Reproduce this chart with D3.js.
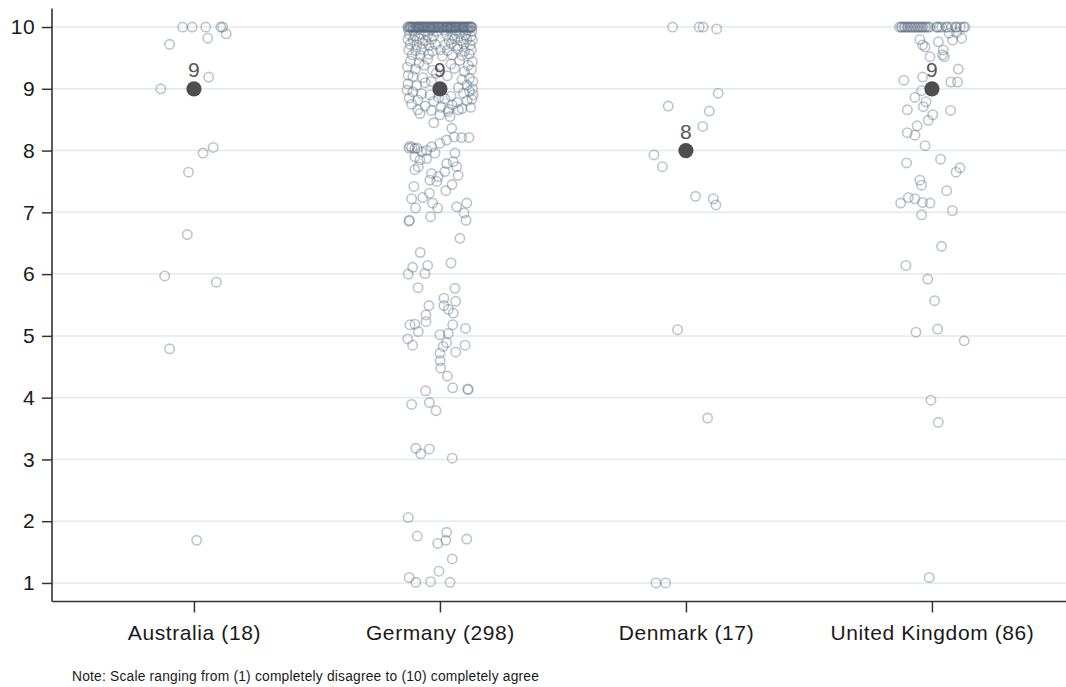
<!DOCTYPE html>
<html><head><meta charset="utf-8">
<script src="https://cdn.jsdelivr.net/npm/d3@7"></script>
<style>
body{margin:0;background:#fff;}
svg{display:block;font-family:"Liberation Sans",Arial,sans-serif;}
</style>
</head><body>
<svg id="chart" width="1066" height="687"></svg>
<script>
const categories = ["Australia (18)", "Germany (298)", "Denmark (17)", "United Kingdom (86)"];
const medians = [9, 9, 8, 9];
const yTickValues = [1, 2, 3, 4, 5, 6, 7, 8, 9, 10];
const noteText = "Note: Scale ranging from (1) completely disagree to (10) completely agree";

// each point: [rating, horizontal jitter in % of the category spacing]
const australia = [
  [10,-4.6],[10,-0.7],[10,4.8],[10,10.9],[10,11.7],[9.82,5.6],[9.89,13.1],[9.72,-9.9],[9.19,6.0],
  [9.0,-13.5],[8.05,7.8],[7.96,3.7],[7.65,-2.2],[6.64,-2.7],[5.97,-11.9],[5.87,9.1],[4.79,-9.9],[1.69,1.1]
];

const germanyTop = [
  -13.1,-12.7,-12.2,-11.9,-11.3,-11.0,-10.6,-10.1,-9.8,-9.4,
  -9.0,-8.5,-8.2,-7.7,-7.4,-7.0,-6.5,-6.2,-5.8,-5.3,
  -5.0,-4.6,-4.1,-3.8,-3.3,-3.0,-2.6,-2.1,-1.8,-1.4,
  -0.9,-0.6,-0.2,0.3,0.6,1.1,1.4,1.8,2.3,2.6,
  3.1,3.4,3.9,4.2,4.7,5.0,5.5,5.8,6.2,6.7,
  7.0,7.5,7.8,8.3,8.6,9.1,9.4,9.9,10.2,10.7,
  11.0,11.5,11.8,12.3,12.7,13.0,-12.0,-8.8,-4.4,-0.4,
  2.9,6.4,9.6,12.5,-6.8,4.4,-2.4
];
const germanyHigh = [
  [9.96,-12.8],[9.95,-10.9],[9.97,-8.6],[9.94,-6.1],[9.96,-3.7],[9.93,-1.2],[9.95,1.6],[9.97,4.1],[9.94,6.6],[9.96,9.0],[9.95,11.3],[9.93,13.0],
  [9.88,-12.4],[9.86,-10.2],[9.89,-7.8],[9.87,-5.0],[9.85,-2.6],[9.88,2.7],[9.86,5.1],[9.89,7.9],[9.87,10.4],[9.85,12.6],
  [9.80,-13.0],[9.79,-10.8],[9.81,-8.3],[9.78,-5.9],[9.80,-3.4],[9.79,3.6],[9.81,6.0],[9.78,8.5],[9.80,10.9],[9.79,13.2],
  [9.72,-12.1],[9.71,-9.4],[9.73,-7.0],[9.70,-4.4],[9.72,-1.9],[9.71,2.1],[9.73,4.6],[9.70,7.1],[9.72,9.6],[9.71,12.3],
  [9.63,-12.7],[9.62,-9.9],[9.64,-7.4],[9.61,-3.0],[9.63,0.2],[9.62,3.0],[9.64,7.3],[9.61,10.0],[9.63,12.8],
  [9.55,-11.3],[9.54,-8.0],[9.56,-4.6],[9.53,1.0],[9.55,5.0],[9.54,9.0],[9.56,11.9]
];
const germanyMid = [
  [9.45,-12.0],[9.42,-8.5],[9.48,-5.0],[9.40,4.5],[9.46,8.0],[9.38,11.5],[9.44,13.2],
  [9.35,-13.2],[9.32,-10.0],[9.30,-3.0],[9.33,6.0],[9.28,10.0],[9.31,12.8],
  [9.22,-12.9],[9.20,-11.0],[9.18,-7.0],[9.25,-1.5],[9.21,3.0],[9.15,9.0],[9.17,12.0],[9.12,13.4],
  [9.08,-13.0],[9.05,-9.5],[9.10,-6.0],[9.02,7.5],[9.06,11.0],[9.00,13.3],[8.98,-13.4],
  [8.95,-11.0],[8.92,-7.5],[8.90,-4.0],[8.88,4.5],[8.93,9.5],[8.96,12.0],[8.90,13.5],
  [8.85,-12.5],[8.82,-9.0],[8.80,-2.5],[8.84,2.0],[8.78,7.0],[8.81,11.0],[8.83,13.0],
  [8.75,-11.5],[8.72,-6.0],[8.70,0.5],[8.74,5.0],[8.68,9.0],[8.70,12.5],
  [8.66,-9.0],[8.65,-3.5],[8.67,3.5],[8.66,7.5],
  [9.38,-6.5],[9.12,-3.5],[8.86,-0.5]
];
const germanyLow = [
  [8.63,3.3],[8.60,-8.1],[8.58,0.0],[8.55,4.1],[8.36,4.8],[8.22,5.8],[8.21,8.8],[8.21,11.8],[8.17,2.7],[8.12,0.0],
  [8.04,-12.6],[8.05,-11.4],[8.03,-10.2],[8.04,-9.3],[8.07,-12.2],[7.98,-7.4],[8.00,-5.4],[8.06,-3.4],[7.96,-2.0],[7.90,-10.2],
  [7.85,-8.1],[7.87,-5.4],[7.96,6.1],[7.82,5.4],[7.79,2.7],[7.69,-10.2],[7.74,-8.8],[7.63,-3.4],[7.58,-0.7],[7.66,2.0],
  [7.74,6.8],[7.60,7.4],[7.52,-4.1],[7.50,-1.3],[7.35,2.4],[7.42,-10.6],[7.45,4.9],[8.45,-2.5],
  [7.22,-11.5],[7.24,-7.0],[7.31,-4.3],[7.15,-3.0],[7.07,-0.9],[7.07,-9.9],[7.09,6.8],[7.15,10.9],[6.99,9.8],[6.87,10.6],
  [6.86,-12.6],[6.87,-12.4],[6.93,-3.8],[6.58,8.1],[6.35,-8.0],[6.18,4.5],[6.11,-11.1],[6.14,-5.0],[6.00,-12.9],[6.01,-6.1],
  [5.78,-8.9],[5.77,6.1],[5.61,1.6],[5.56,6.4],[5.49,-4.5],[5.49,1.6],[5.43,3.4],[5.37,5.4],[5.34,-5.7],[5.23,-5.7],
  [5.18,-12.2],[5.19,-10.2],[5.07,-8.8],[5.18,5.2],[5.12,10.4],[5.02,0.0],[5.04,3.4],[4.95,-13.1],[4.85,-11.1],[4.89,2.7],
  [4.83,1.3],[4.85,10.2],[4.74,6.4],[4.72,0.0],[4.60,0.1],[4.48,0.3],[4.35,3.0],[4.16,5.2],[4.14,11.3],[4.13,11.5],
  [4.11,-5.8],[3.89,-11.5],[3.92,-4.3],[3.79,-1.6],[3.18,-9.8],[3.09,-7.8],[3.17,-4.3],[3.02,5.0],[2.06,-12.9],[1.76,-9.2],
  [1.82,2.7],[1.64,-0.9],[1.69,2.4],[1.71,10.9],[1.39,5.0],[1.19,-0.4],[1.09,-12.5],[1.01,-9.8],[1.02,-3.8],[1.01,4.1]
];

const denmark = [
  [10,-5.4],[10,5.4],[10,7.0],[9.97,12.5],[8.93,13.1],[8.72,-7.2],[8.64,9.5],[8.39,6.8],[7.93,-13.0],
  [7.74,-9.6],[7.26,3.9],[7.22,11.1],[7.12,12.2],[5.10,-3.4],[3.67,8.8],[1.0,-12.2],[1.0,-8.3]
];

const ukTop = [
  -13.2,-12.5,-12.1,-11.3,-10.9,-10.1,-9.7,-8.9,-8.4,-7.9,-7.1,-6.7,-5.9,-5.5,-4.8,-4.1,-3.7,-2.9,-2.3,-1.6,
  1.9,2.2,5.8,6.3,9.6,10.1,12.9,13.4,8.0,11.5,4.0,3.1,-0.9
];
const ukRest = [
  [9.90,7.0],[9.91,10.0],[9.82,12.1],[9.79,8.4],[9.80,-4.9],[9.68,-2.8],[9.71,-3.8],[9.76,2.6],[9.63,4.6],[9.55,4.3],
  [9.52,5.0],[9.52,-0.8],[9.32,10.7],[9.14,-11.4],[9.19,-3.8],[9.11,7.7],[9.11,10.4],[8.97,-4.2],[8.86,-6.9],[8.79,-2.4],
  [8.71,-3.5],[8.66,-10.0],[8.65,7.6],[8.58,0.3],[8.49,-1.5],[8.40,-6.0],[8.29,-10.0],[8.25,-6.9],[8.08,-2.8],[7.80,-10.3],
  [7.86,3.5],[7.72,11.4],[7.65,9.8],[7.52,-4.9],[7.44,-4.2],[7.35,6.0],[7.24,-9.6],[7.22,-6.9],[7.15,-12.7],[7.16,-3.8],
  [7.15,-0.8],[7.03,8.3],[6.96,-4.2],[6.45,3.9],[6.14,-10.6],[5.92,-1.7],[5.57,1.1],[5.06,-6.5],[5.11,2.3],[4.92,13.1],
  [3.96,-0.4],[3.60,2.6],[1.09,-1.1]
];

const germany = germanyTop.map(j => [10, j]).concat(germanyHigh, germanyMid, germanyLow);
const unitedKingdom = ukTop.map(j => [10, j]).concat(ukRest);
const series = [australia, germany, denmark, unitedKingdom];

const W = 1066, H = 687;
const plotLeft = 52, plotBottom = 601.5, plotTop = 8.5;
const x = d3.scaleLinear().domain([0.423, 4.545]).range([plotLeft, W]);
const y = d3.scaleLinear().domain([0.7, 10.3]).range([plotBottom, plotTop]);
const svg = d3.select("#chart");
const fontFam = '"Liberation Sans",Arial,sans-serif';

// grid lines
svg.append("g").selectAll("line").data(yTickValues).join("line")
  .attr("x1", plotLeft).attr("x2", W)
  .attr("y1", d => y(d)).attr("y2", d => y(d))
  .attr("stroke", "#e2eaed").attr("stroke-width", 1.5);

// jittered points
series.forEach((pts, i) => {
  svg.append("g").selectAll("circle").data(pts).join("circle")
    .attr("cx", d => x(i + 1 + d[1] / 100))
    .attr("cy", d => y(d[0]))
    .attr("r", 4.7)
    .attr("fill", "none")
    .attr("stroke", "#5b6b80")
    .attr("stroke-opacity", 0.4)
    .attr("stroke-width", 1.6);
});

// medians
svg.append("g").selectAll("circle").data(medians).join("circle")
  .attr("cx", (d, i) => x(i + 1)).attr("cy", d => y(d))
  .attr("r", 7.6).attr("fill", "#4e4e4e");
svg.append("g").selectAll("text").data(medians).join("text")
  .attr("x", (d, i) => x(i + 1)).attr("y", d => y(d) - 12)
  .attr("text-anchor", "middle").attr("font-size", 21)
  .attr("fill", "#555").text(d => d);

// axes
const yAxis = d3.axisLeft(y).tickValues(yTickValues).tickSize(10).tickPadding(7).tickSizeOuter(0);
const gy = svg.append("g").attr("transform", `translate(${plotLeft},0)`).call(yAxis);
gy.select(".domain").remove();
gy.selectAll("line").attr("stroke", "#333").attr("stroke-width", 1.5);
gy.selectAll("text").attr("font-size", 21).attr("fill", "#1a1a1a")
  .attr("font-family", fontFam).attr("letter-spacing", 0.4);

const xAxis = d3.axisBottom(x).tickValues([1, 2, 3, 4])
  .tickFormat((d, i) => categories[i]).tickSize(11).tickPadding(13).tickSizeOuter(0);
const gx = svg.append("g").attr("transform", `translate(0,${plotBottom})`).call(xAxis);
gx.select(".domain").remove();
gx.selectAll("line").attr("stroke", "#333").attr("stroke-width", 1.5);
gx.selectAll("text").attr("font-size", 21).attr("fill", "#1a1a1a")
  .attr("font-family", fontFam).attr("letter-spacing", 0.6);

// axis lines
svg.append("line").attr("x1", plotLeft).attr("x2", plotLeft).attr("y1", plotTop).attr("y2", plotBottom)
  .attr("stroke", "#333").attr("stroke-width", 1.6);
svg.append("line").attr("x1", plotLeft).attr("x2", W).attr("y1", plotBottom).attr("y2", plotBottom)
  .attr("stroke", "#333").attr("stroke-width", 1.6);

// note
svg.append("text").attr("x", 72).attr("y", 681)
  .attr("font-size", 13.8).attr("letter-spacing", 0.2).attr("fill", "#1a1a1a")
  .text(noteText);
</script>
</body></html>
